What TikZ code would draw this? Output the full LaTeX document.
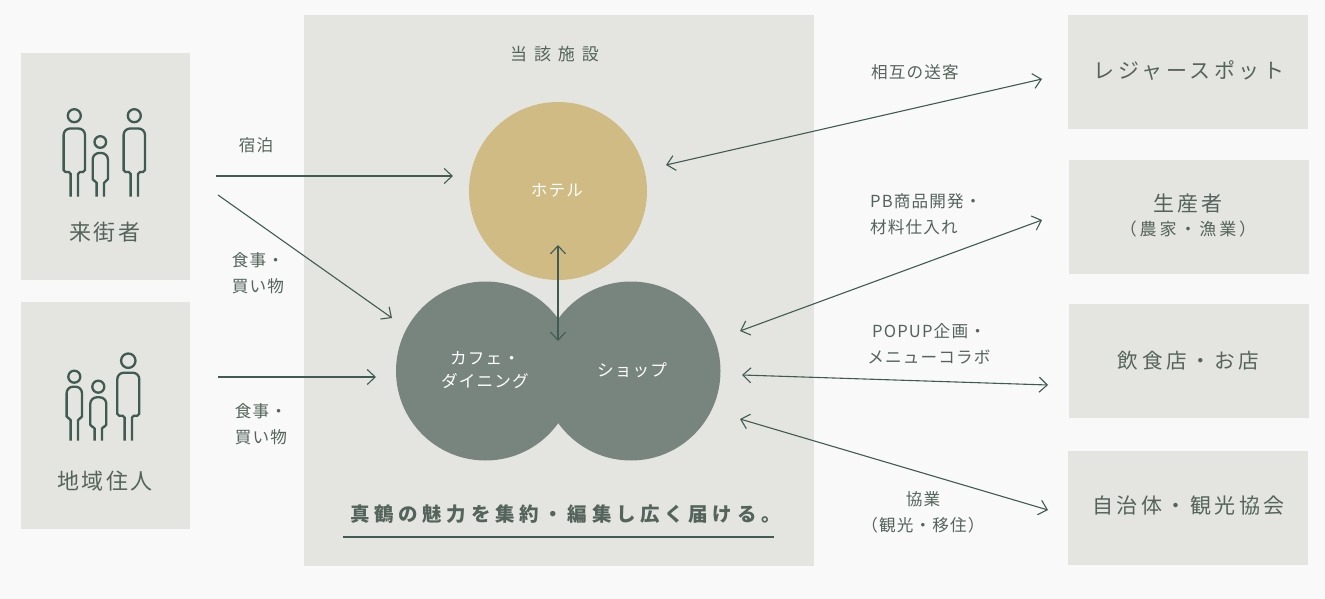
\documentclass[tikz,border=0pt]{standalone}
\usepackage{fontspec}
\usetikzlibrary{arrows.meta}
\newfontfamily\jpsmall[LetterSpace=7]{Noto Sans CJK JP}
\newfontfamily\jpmid[LetterSpace=12]{Noto Sans CJK JP}
\newfontfamily\jpwide[LetterSpace=17]{Noto Sans CJK JP}
\newfontfamily\jphead[LetterSpace=24]{Noto Sans CJK JP}
\newfontfamily\jptitle[LetterSpace=41]{Noto Sans CJK JP}
\definecolor{pagebg} {RGB}{249,249,249}
\definecolor{boxbg}  {RGB}{228,229,224}
\definecolor{hgold}  {RGB}{209,187,132}
\definecolor{sgrey}  {RGB}{120,133,127}
\definecolor{dgreen} {RGB}{ 63, 91, 82}
\definecolor{tgrey}  {RGB}{ 84,100, 92}
\tikzset{
  % Pale box
  BX/.style={rectangle,fill=boxbg,minimum width=#1,inner sep=0pt},
  BX/.default=240pt,
  % Text in a right box
  TX/.style={text=tgrey,align=center,inner sep=0pt,
             font=\jpwide\fontsize{21}{24}\selectfont},
  % Filled circle
  CC/.style={circle,fill=#1,minimum size=179pt,inner sep=0pt},
  % Small text on the page
  LB/.style={text=tgrey,align=center,inner sep=0pt,
             font=\jpsmall\fontsize{16.6}{26}\selectfont},
  % White text in a circle
  WT/.style={text=white,align=center,inner sep=0pt,
             font=\jpsmall\fontsize{16.6}{22.5}\selectfont},
  % Arrows
  Arr/.style ={-{Straight Barb[length=8pt,width=15pt]},line width=1.1pt,color=dgreen},
  DArr/.style={{Straight Barb[length=8pt,width=15pt]}-{Straight Barb[length=8pt,width=15pt]},
               line width=1.1pt,color=dgreen},
  % Figure line
  FG/.style={draw=dgreen,line width=2.3pt},
}
% x, head y, head radius, half width, body top, body bottom, foot y
\newcommand{\drawperson}[7]{
  \draw[FG] (#1,#2) circle (#3);
  \draw[FG,rounded corners=1.9pt]
    (#1-3.7,#7)--(#1-3.7,#6)--(#1-#4,#6)
    [rounded corners=6.5pt]--(#1-#4,#5)--(#1+#4,#5)
    [rounded corners=1.9pt]--(#1+#4,#6)--(#1+3.7,#6)--(#1+3.7,#7);
}
\begin{document}
\begin{tikzpicture}[x=1pt,y=-1pt]
  \useasboundingbox[fill=pagebg] (0,0) rectangle (1325,599);
  % left boxes
  \node[BX=169pt,minimum height=227pt] at (105.5,166.5) (visitor) {};
  \node[BX=169pt,minimum height=227pt] at (105.5,415.5) (resident) {};
  \node[text=tgrey,inner sep=0pt,font=\jpmid\fontsize{22}{26}\selectfont]
        at (105,232) (vlabel) {来街者};
  \node[text=tgrey,inner sep=0pt,font=\jpmid\fontsize{22}{26}\selectfont]
        at (105,481) (rlabel) {地域住人};
  \drawperson{74.3}{115.7}{6.5}{10.7}{128.5}{172}{196.5}
  \drawperson{100.3}{142}{5.8}{7.6}{153}{181}{196.5}
  \drawperson{134.3}{115.7}{6.5}{10.7}{128.5}{172}{196.5}
  \drawperson{74.3}{376.7}{6}{7.7}{386.7}{418.3}{440.7}
  \drawperson{98.3}{386.7}{6}{8}{397.3}{426.7}{440.7}
  \drawperson{128.3}{360.7}{7.2}{11}{372.7}{415.7}{440.7}
  % centre panel
  \node[BX=510pt,minimum height=551pt] at (559,290.5) (facility) {};
  \node[LB,font=\jptitle\fontsize{17}{20}\selectfont] at (554.5,54) (ftitle) {当該施設};
  \node[CC=hgold,minimum size=178pt] at (558,191) (hotel) {};
  \node[CC=sgrey] at (631,371) (shop) {};
  \node[CC=sgrey] at (485.5,371) (cafe) {};
  \node[WT] at (557,190) (thotel) {ホテル};
  \node[WT] at (632,370) (tshop) {ショップ};
  \node[WT] at (485,370) (tcafe) {カフェ・\\ダイニング};
  \node[text=tgrey,inner sep=0pt,font=\jphead\bfseries\fontsize{19.5}{24}\selectfont]
        at (565.5,514) (slogan) {真鶴の魅力を集約・編集し広く届ける。};
  \coordinate (ulA) at (343,537);
  \coordinate (ulB) at (774,537);
  \draw[dgreen,line width=1.8pt] (ulA)--(ulB);
  % right boxes
  \node[BX,minimum height=114pt] at (1188,72) (leisure) {};
  \node[BX,minimum height=114pt] at (1189,217) (maker) {};
  \node[BX,minimum height=114pt] at (1189,361) (shops) {};
  \node[BX,minimum height=114pt] at (1188,508) (city) {};
  \node[TX] at (1189,71) (tleisure) {レジャースポット};
  \node[TX,font=\jpmid\fontsize{21}{24}\selectfont] at (1188,204) (tmaker) {生産者};
  \node[TX,font=\jpwide\fontsize{17}{20}\selectfont] at (1188,229) (tsub) {（農家・漁業）};
  \node[TX,font=\jpwide\fontsize{20.6}{24}\selectfont] at (1188.5,360.5) (tshops) {飲食店・お店};
  \node[TX] at (1188.5,505.5) (tcity) {自治体・観光協会};
  % arrow ends
  \coordinate (a1) at (216,176);   \coordinate (a2) at (453,176);
  \coordinate (b1) at (218,195);   \coordinate (b2) at (392,318);
  \coordinate (c1) at (218,377);   \coordinate (c2) at (376,377);
  \coordinate (d1) at (558,245);   \coordinate (d2) at (558,341);
  \coordinate (e1) at (666,165);   \coordinate (e2) at (1042,79);
  \coordinate (f1) at (740,331);   \coordinate (f2) at (1042,220);
  \coordinate (g1) at (742,375);   \coordinate (g2) at (1048,385);
  \coordinate (h1) at (740,419);   \coordinate (h2) at (1048,510);
  \draw[Arr] (a1)--(a2);
  \draw[Arr] (b1)--(b2);
  \draw[Arr] (c1)--(c2);
  \draw[DArr] (d1)--(d2);
  \draw[DArr] (e1)--(e2);
  \draw[DArr] (f1)--(f2);
  \draw[DArr] (g1)--(g2);
  \draw[DArr] (h1)--(h2);
  % arrow labels
  \node[LB] at (256,145) (l1) {宿泊};
  \node[LB] at (258,273) (l2) {食事・\\買い物};
  \node[LB] at (261,424.5) (l3) {食事・\\買い物};
  \node[LB] at (915,72) (l4) {相互の送客};
  \node[LB,align=left,anchor=west] at (870,214) (l5) {PB商品開発・\\材料仕入れ};
  \node[LB] at (929,344) (l6) {POPUP企画・\\メニューコラボ};
  \node[LB] at (923,512) (l7) {協業\\（観光・移住）};
\end{tikzpicture}
\end{document}
